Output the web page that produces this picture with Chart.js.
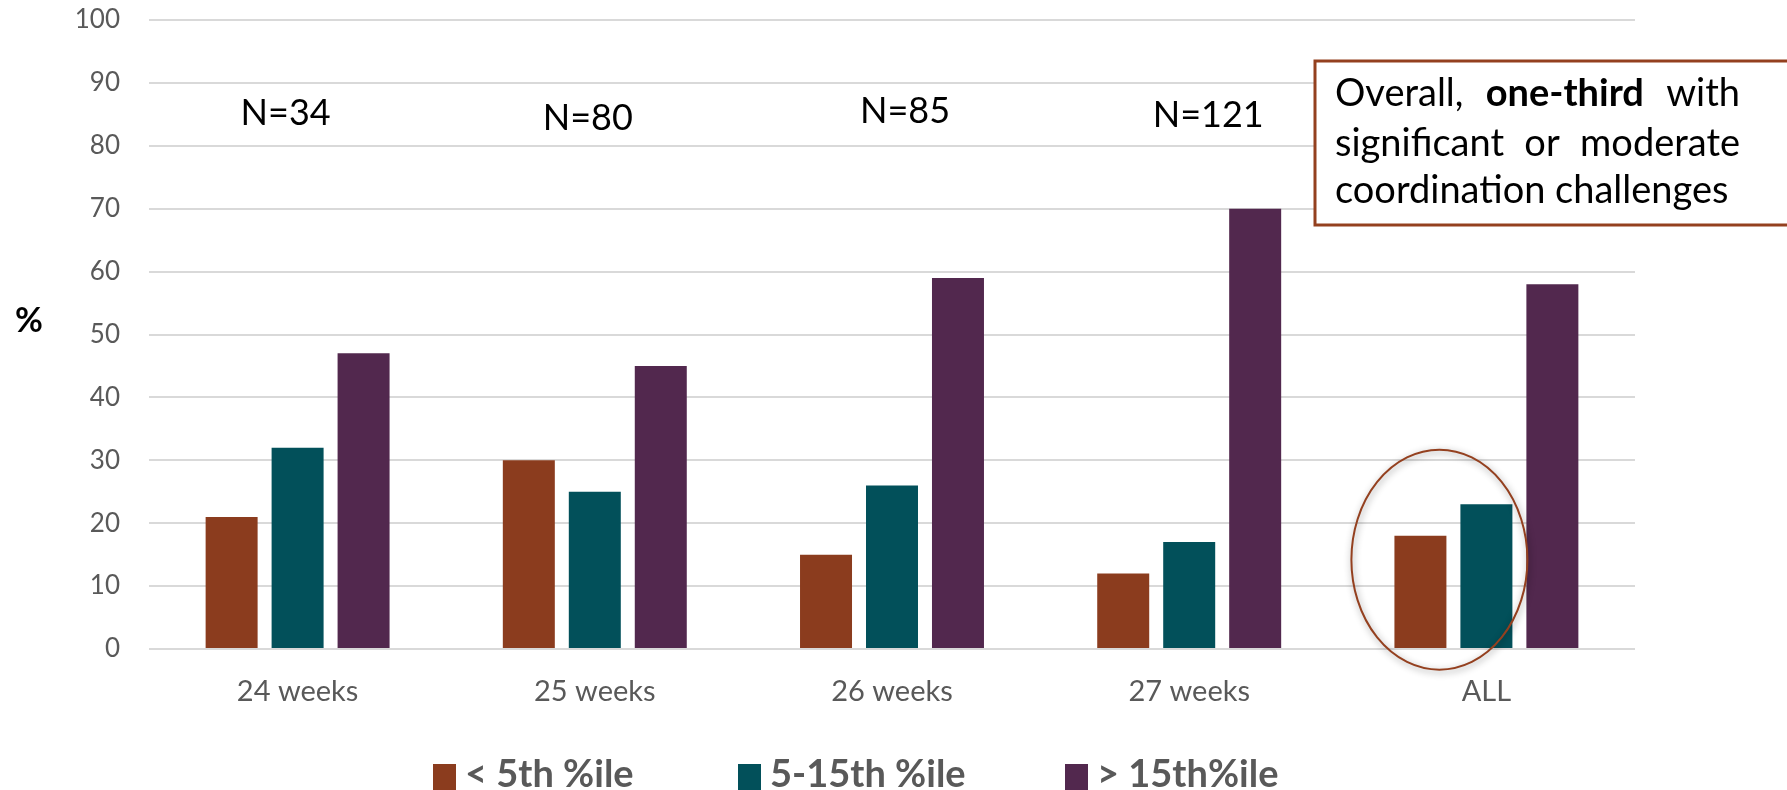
<!DOCTYPE html>
<html>
<head>
<meta charset="utf-8">
<script src="https://cdn.jsdelivr.net/npm/chart.js@4.4.1/dist/chart.umd.min.js"></script>
<style>
  html, body { margin: 0; padding: 0; background: #ffffff; overflow: hidden; }
  #wrap { position: relative; width: 1787px; height: 790px; }
</style>
</head>
<body>
<div id="wrap"><canvas id="chart" width="1787" height="790"></canvas></div>
<script>
// ---- data ----
const categories = ['24 weeks', '25 weeks', '26 weeks', '27 weeks', 'ALL'];
const seriesNames = ['< 5th %ile', '5-15th %ile', '> 15th%ile'];
const below5th = [21, 30, 15, 12, 18];
const from5to15th = [32, 25, 26, 17, 23];
const above15th = [47, 45, 59, 70, 58];
const groupSizes = ['N=34', 'N=80', 'N=85', 'N=121'];
const yTickValues = [0, 10, 20, 30, 40, 50, 60, 70, 80, 90, 100];
const calloutLines = [
  [['Overall,', false], ['one-third', true], ['with', false]],
  [['significant', false], ['or', false], ['moderate', false]],
  [['coordination challenges', false]]
];

// ---- styling ----
const COLORS = ['#8B3C1E', '#02505A', '#52284E'];
const ACCENT = '#94401F';
const GREY = '#595959';
const FONT = 'Lato, "Open Sans", "DejaVu Sans", sans-serif';

// placement of the group-size labels: value height + horizontal nudge
const groupLabelY = [85.1, 84.4, 85.5, 84.9];
const groupLabelDx = [-12, -7, 13, 19];

const seriesValues = [below5th, from5to15th, above15th];

const decorations = {
  id: 'decorations',
  afterDatasetsDraw(chart) {
    const { ctx, scales: { x, y } } = chart;
    // ring round the first two bars of the ALL group
    const cx = x.getPixelForValue(4) - 47;
    const cy = y.getPixelForValue(14.2);
    ctx.save();
    ctx.beginPath();
    ctx.ellipse(cx, cy, 88, 110, 0, 0, Math.PI * 2);
    ctx.shadowColor = 'rgba(0,0,0,0.45)';
    ctx.shadowBlur = 7;
    ctx.shadowOffsetX = 1;
    ctx.shadowOffsetY = 2;
    ctx.strokeStyle = ACCENT;
    ctx.lineWidth = 2;
    ctx.stroke();
    ctx.restore();
  },
  afterDraw(chart) {
    const { ctx, scales: { x, y } } = chart;
    ctx.save();

    // group sizes above each week
    ctx.fillStyle = '#000000';
    ctx.font = '36px ' + FONT;
    ctx.textAlign = 'center';
    ctx.textBaseline = 'middle';
    groupSizes.forEach((t, i) => {
      ctx.fillText(t, x.getPixelForValue(i) + groupLabelDx[i], y.getPixelForValue(groupLabelY[i]));
    });

    // axis unit label
    ctx.font = 'bold 34px ' + FONT;
    ctx.fillText('%', 29, y.getPixelForValue(52.2));

    // callout box
    const bx = 1315, by = 61, bh = 164;
    ctx.fillStyle = '#ffffff';
    ctx.fillRect(bx, by, 600, bh);
    ctx.strokeStyle = ACCENT;
    ctx.lineWidth = 3;
    ctx.strokeRect(bx, by, 600, bh);

    const textLeft = 1335, textRight = 1740;
    const baselines = [106, 156, 203];
    ctx.fillStyle = '#000000';
    ctx.textAlign = 'left';
    ctx.textBaseline = 'alphabetic';
    const fontFor = b => (b ? 'bold ' : '') + '38px ' + FONT;
    calloutLines.forEach((words, li) => {
      const widths = words.map(([w, b]) => { ctx.font = fontFor(b); return ctx.measureText(w).width; });
      const total = widths.reduce((a, c) => a + c, 0);
      const justify = li < calloutLines.length - 1 && words.length > 1;
      const gap = justify ? (textRight - textLeft - total) / (words.length - 1) : 0;
      let px = textLeft;
      words.forEach(([w, b], wi) => {
        ctx.font = fontFor(b);
        ctx.fillText(w, px, baselines[li]);
        px += widths[wi] + gap;
      });
    });

    // legend along the bottom
    const boxX = [433, 738, 1065];
    ctx.font = 'bold 38px ' + FONT;
    ctx.textBaseline = 'middle';
    chart.data.datasets.forEach((ds, i) => {
      ctx.fillStyle = ds.backgroundColor;
      ctx.fillRect(boxX[i], 764, 23, 26);
      ctx.fillStyle = GREY;
      ctx.fillText(ds.label, boxX[i] + 32, 775);
    });
    ctx.restore();
  }
};

new Chart(document.getElementById('chart'), {
  type: 'bar',
  data: {
    labels: categories,
    datasets: seriesNames.map((name, i) => ({
      label: name,
      data: seriesValues[i],
      backgroundColor: COLORS[i],
      borderWidth: 0,
      categoryPercentage: 0.666,
      barPercentage: 0.788
    }))
  },
  options: {
    responsive: false,
    animation: false,
    devicePixelRatio: 1,
    layout: { padding: { left: 0, right: 152, top: 20, bottom: 0 } },
    plugins: {
      legend: { display: false },
      tooltip: { enabled: false }
    },
    scales: {
      x: {
        grid: { display: false },
        border: { display: false },
        ticks: { color: GREY, font: { family: FONT, size: 29 }, padding: 17, maxRotation: 0 },
        afterFit(scale) { scale.height = 141; scale.paddingLeft = 0; scale.paddingRight = 0; }
      },
      y: {
        min: 0,
        max: 100,
        afterBuildTicks(scale) { scale.ticks = yTickValues.map(v => ({ value: v })); },
        grid: { color: '#d9d9d9', lineWidth: 2, drawTicks: false },
        border: { display: false },
        ticks: { color: GREY, font: { family: FONT, size: 26 }, padding: 29 },
        afterFit(scale) { scale.width = 149; scale.paddingTop = 0; scale.paddingBottom = 0; }
      }
    }
  },
  plugins: [decorations]
});
</script>
</body>
</html>
